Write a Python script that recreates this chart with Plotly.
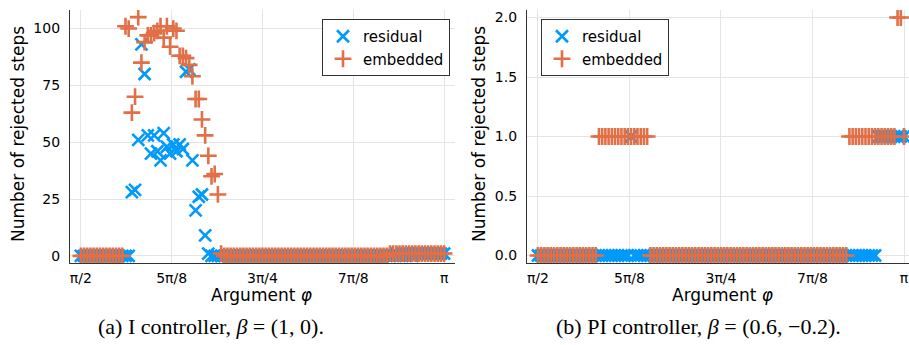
import numpy as np
import plotly.graph_objects as go

# ---------------- data ----------------
N_SAMPLES = 115
phi = np.linspace(np.pi / 2, np.pi, N_SAMPLES)  # sampled arguments

tick_vals = [np.pi / 2, 5 * np.pi / 8, 3 * np.pi / 4, 7 * np.pi / 8, np.pi]
tick_text = ["π/2", "5π/8", "3π/4", "7π/8", "π"]

left_yticks = [0, 25, 50, 75, 100]
right_yticks = [0.0, 0.5, 1.0, 1.5, 2.0]
right_yticktext = ["0.0", "0.5", "1.0", "1.5", "2.0"]

# (a) I controller
left_residual = [
    0, 0, 0, 0, 0, 0, 0, 0, 0, 0, 0, 0, 0, 0, 0, 0,
    28, 29, 51, 93, 80, 53, 45, 53, 46, 42, 54, 48, 45, 49, 46, 49, 47, 81, 82, 42,
    20, 26, 27, 9, 1,
    0, 0, 0, 0, 0, 0, 0, 0, 0, 0, 0, 0, 0, 0, 0, 0, 0, 0, 0, 0,
    0, 0, 0, 0, 0, 0, 0, 0, 0, 0, 0, 0, 0, 0, 0, 0, 0, 0, 0, 0,
    0, 0, 0, 0, 0, 0, 0, 0, 0, 0, 0, 0, 0, 0, 0, 0, 0, 0,
    1, 0, 1, 0, 1, 0,
    1, 1, 1, 1, 1, 1, 1, 1, 1, 1,
]
left_embedded = [
    0, 0, 0, 0, 0, 0, 0, 0, 0, 0, 0, 0, 0, 0,
    101, 100, 63, 70, 105, 85, 94, 97, 97, 98, 99, 101, 96, 101, 92, 100,
    99, 88, 88, 87, 84, 79, 69, 69, 60, 53, 44, 35, 36, 27,
    1,
    0, 0, 0, 0, 0, 0, 0, 0, 0, 0, 0, 0, 0, 0, 0, 0, 0, 0, 0, 0,
    0, 0, 0, 0, 0, 0, 0, 0, 0, 0, 0, 0, 0, 0, 0, 0, 0, 0, 0, 0,
    0, 0, 0, 0, 0, 0, 0, 0, 0, 0, 0, 0,
    1, 1, 1, 1, 1, 1, 1, 1, 1, 1, 1, 1, 1, 1, 1, 1, 1, 1,
]

# (b) PI controller
right_residual = [
    0, 0, 0, 0, 0, 0, 0, 0, 0, 0, 0, 0, 0, 0, 0, 0, 0, 0, 0, 0,
    0, 0, 0, 0, 0, 0, 0, 0, 0, 1,
    0, 0, 0, 0, 0, 0, 0, 0, 0, 0, 0, 0, 0, 0, 0, 0, 0, 0, 0, 0,
    0, 0, 0, 0, 0, 0, 0, 0, 0, 0, 0, 0, 0, 0, 0, 0, 0, 0, 0, 0,
    0, 0, 0, 0, 0, 0, 0, 0, 0, 0, 0, 0, 0, 0, 0, 0, 0, 0, 0, 0,
    0, 0, 0, 0, 0, 0, 0, 0, 0, 0, 0, 0, 0, 0, 0, 0,
    1, 1, 1, 1, 1, 1, 1, 1, 1,
]
right_embedded = [
    0, 0, 0, 0, 0, 0, 0, 0, 0, 0, 0, 0, 0, 0, 0, 0, 0, 0, 0,
    1, 1, 1, 1, 1, 1, 1, 1, 1, 1, 1, 1, 1, 1, 1, 1,
    0, 0, 0, 0, 0, 0, 0, 0, 0, 0, 0, 0, 0, 0, 0, 0, 0, 0, 0, 0,
    0, 0, 0, 0, 0, 0, 0, 0, 0, 0, 0, 0, 0, 0, 0, 0, 0, 0, 0, 0,
    0, 0, 0, 0, 0, 0, 0, 0, 0, 0, 0, 0, 0, 0, 0, 0, 0, 0, 0, 0,
    0, 0,
    1, 1, 1, 1, 1, 1, 1, 1, 1, 1, 1, 1, 1, 1, 1,
    2, 2, 1,
]

series_names = ["residual", "embedded"]

# ---------------- style ----------------
BLUE = "#009AFA"
ORANGE = "#E26F46"
SANS = "DejaVu Sans"
SERIF = "Liberation Serif"
W, H = 909, 345

def px_x(p):
    return p / W

def px_y(p):
    return 1 - p / H

fig = go.Figure()

def add_pair(res, emb, xa, ya, legend):
    fig.add_trace(go.Scatter(
        x=phi, y=res, mode="markers", name=series_names[0],
        xaxis=xa, yaxis=ya, legend=legend,
        marker=dict(symbol="x-thin", size=12, color=BLUE,
                    line=dict(color=BLUE, width=2.6)),
    ))
    fig.add_trace(go.Scatter(
        x=phi, y=emb, mode="markers", name=series_names[1],
        xaxis=xa, yaxis=ya, legend=legend,
        marker=dict(symbol="cross-thin", size=12, color=ORANGE,
                    line=dict(color=ORANGE, width=2.6)),
    ))

add_pair(left_residual, left_embedded, "x", "y", "legend")
add_pair(right_residual, right_embedded, "x2", "y2", "legend2")

ydom = [px_y(263), px_y(10)]

axis_common = dict(
    showgrid=True, gridcolor="#E4E4E4", gridwidth=1,
    zeroline=False, showline=True, linecolor="#333333", linewidth=1.2,
    ticks="", ticklen=0, tickfont=dict(family=SANS, size=14, color="#000000"),
    mirror=False, automargin=False,
)

fig.update_layout(
    width=W, height=H,
    margin=dict(l=0, r=0, t=0, b=0),
    paper_bgcolor="white", plot_bgcolor="white",
    showlegend=True,
    xaxis=dict(domain=[px_x(70), px_x(455)], range=[1.5237, 3.1887], anchor="y",
               tickvals=tick_vals, ticktext=tick_text, ticklabelstandoff=2, **axis_common),
    yaxis=dict(domain=ydom, range=[-3.15, 108.15], anchor="x",
               tickvals=left_yticks, ticklabelstandoff=6, **axis_common),
    xaxis2=dict(domain=[px_x(527), 1.0], range=[1.5237, 3.163], anchor="y2",
                tickvals=tick_vals, ticktext=tick_text, ticklabelstandoff=2, **axis_common),
    yaxis2=dict(domain=ydom, range=[-0.063, 2.063], anchor="x2",
                tickvals=right_yticks, ticktext=right_yticktext, ticklabelstandoff=6,
                **axis_common),
    legend=dict(x=px_x(322), y=px_y(19), xanchor="left", yanchor="top",
                bgcolor="white", bordercolor="#333333", borderwidth=1,
                font=dict(family=SANS, size=15, color="#000000"),
                tracegroupgap=0, itemwidth=30),
    legend2=dict(x=px_x(541), y=px_y(19), xanchor="left", yanchor="top",
                 bgcolor="white", bordercolor="#333333", borderwidth=1,
                 font=dict(family=SANS, size=15, color="#000000"),
                 tracegroupgap=0, itemwidth=30),
)

annotations = [
    dict(text="Number of rejected steps", x=px_x(18), y=px_y(134), textangle=-90,
         font=dict(family=SANS, size=17, color="#000000")),
    dict(text="Number of rejected steps", x=px_x(479), y=px_y(134), textangle=-90,
         font=dict(family=SANS, size=17, color="#000000")),
    dict(text="Argument <i>φ</i>", x=px_x(262), y=px_y(295),
         font=dict(family=SANS, size=17, color="#000000")),
    dict(text="Argument <i>φ</i>", x=px_x(723), y=px_y(295),
         font=dict(family=SANS, size=17, color="#000000")),
    dict(text="(a) I controller, <i>β</i> = (1, 0).", x=px_x(211), y=px_y(326),
         font=dict(family=SERIF, size=22, color="#000000")),
    dict(text="(b) PI controller, <i>β</i> = (0.6, −0.2).", x=px_x(698), y=px_y(326),
         font=dict(family=SERIF, size=22, color="#000000")),
]
for a in annotations:
    a.update(xref="paper", yref="paper", showarrow=False, xanchor="center", yanchor="middle")
fig.update_layout(annotations=annotations)

fig.write_html(
    "out.html",
    config={"displayModeBar": False},
    post_script="document.body.style.margin='0';document.body.style.overflow='hidden';",
)
